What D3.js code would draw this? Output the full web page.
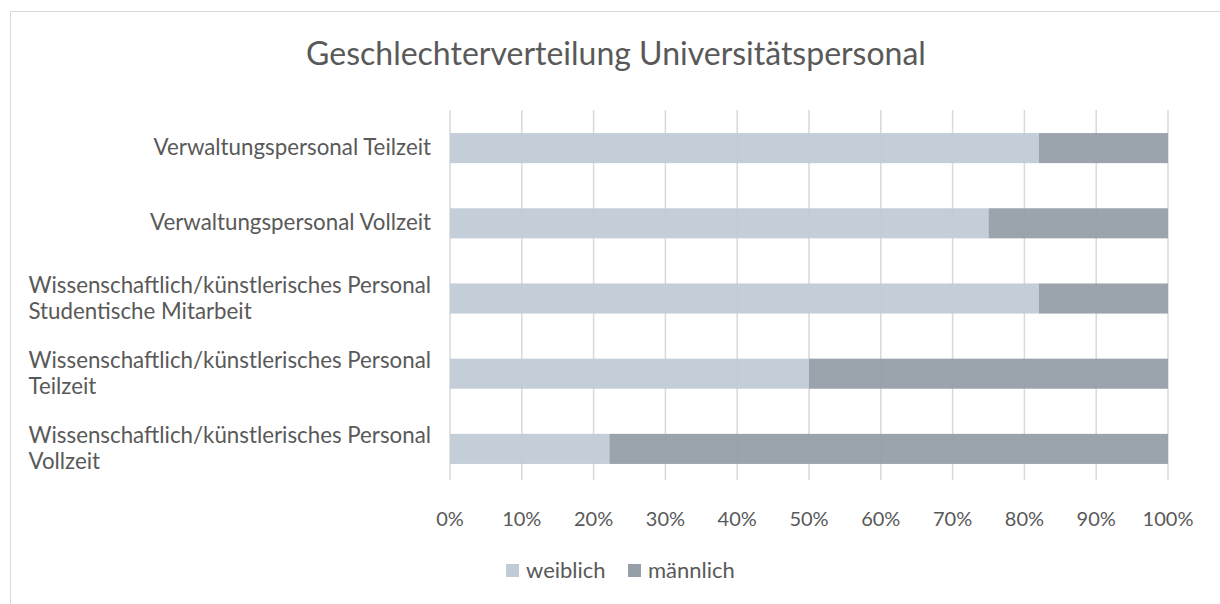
<!DOCTYPE html>
<html>
<head>
<meta charset="utf-8">
<script src="https://cdn.jsdelivr.net/npm/d3@7/dist/d3.min.js"></script>
<style>
  body { margin: 0; background: #fff; }
  svg text { font-family: Lato, "Open Sans", sans-serif; fill: #595959; }
</style>
</head>
<body>
<svg id="chart" width="1220" height="604"></svg>
<script>
const categories = [
  ["Verwaltungspersonal Teilzeit"],
  ["Verwaltungspersonal Vollzeit"],
  ["Wissenschaftlich/künstlerisches Personal", "Studentische Mitarbeit"],
  ["Wissenschaftlich/künstlerisches Personal", "Teilzeit"],
  ["Wissenschaftlich/künstlerisches Personal", "Vollzeit"]
];
const weiblich = [0.82, 0.75, 0.82, 0.50, 0.222];
const maennlich = [0.18, 0.25, 0.18, 0.50, 0.778];
const seriesNames = ["weiblich", "männlich"];
const colors = ["#c1cbd7", "#969ea8"];
const ticks = [0, 0.1, 0.2, 0.3, 0.4, 0.5, 0.6, 0.7, 0.8, 0.9, 1];

const svg = d3.select("#chart");

// outer frame
svg.append("rect")
  .attr("x", 10.5).attr("y", 11.5)
  .attr("width", 1220).attr("height", 620)
  .attr("fill", "none").attr("stroke", "#d9d9d9");

svg.append("text")
  .attr("x", 616).attr("y", 65)
  .attr("text-anchor", "middle")
  .attr("font-size", 32)
  .text("Geschlechterverteilung Universitätspersonal");

const x = d3.scaleLinear().domain([0, 1]).range([450, 1168]);
const y = d3.scaleBand().domain(d3.range(categories.length)).range([110.5, 486.5]).paddingInner(0.6).paddingOuter(0.3);

// grid
svg.append("g").selectAll("line")
  .data(ticks).enter().append("line")
  .attr("x1", d => x(d)).attr("x2", d => x(d))
  .attr("y1", 110).attr("y2", 480)
  .attr("stroke", "#d9d9d9").attr("stroke-width", 1.5);

const stacked = d3.stack().keys([0, 1]).value((d, k) => d[k])(weiblich.map((w, i) => [w, maennlich[i]]));

svg.append("g").selectAll("g")
  .data(stacked).enter().append("g")
  .attr("fill", (d, i) => colors[i])
  .attr("fill-opacity", 0.95)
  .selectAll("rect")
  .data(d => d).enter().append("rect")
  .attr("x", d => x(d[0]))
  .attr("y", (d, i) => y(i))
  .attr("width", d => x(d[1]) - x(d[0]))
  .attr("height", y.bandwidth());

// category labels: lines left-aligned, block right-aligned to the axis
const labels = svg.append("g").selectAll("g")
  .data(categories).enter().append("g");
labels.each(function(d, i) {
  const g = d3.select(this);
  const cy = y(i) + y.bandwidth() / 2;
  const t = g.append("text").attr("font-size", 22.3);
  t.selectAll("tspan").data(d).enter().append("tspan")
    .attr("x", 0)
    .attr("y", (s, j) => d.length === 1 ? cy + 7 : cy - 6 + j * 26)
    .text(s => s);
  const w = t.node().getBBox().width;
  g.attr("transform", `translate(${431 - w},0)`);
});

// axis tick labels
svg.append("g").selectAll("text")
  .data(ticks).enter().append("text")
  .attr("x", d => x(d)).attr("y", 526)
  .attr("text-anchor", "middle")
  .attr("font-size", 20)
  .text(d3.format(".0%"));

// legend
const legend = svg.append("g").selectAll("g")
  .data(seriesNames).enter().append("g")
  .attr("transform", (d, i) => `translate(${i === 0 ? 506 : 628},564)`);
legend.append("rect").attr("width", 13).attr("height", 13).attr("fill", (d, i) => colors[i]);
legend.append("text").attr("x", 20).attr("y", 14).attr("font-size", 22).text(d => d);
</script>
</body>
</html>
